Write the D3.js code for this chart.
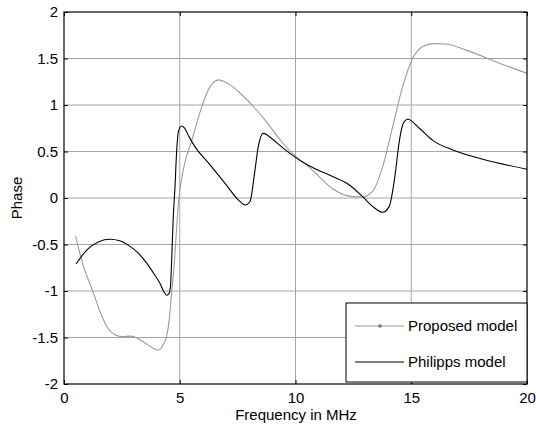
<!DOCTYPE html>
<html><head><meta charset="utf-8">
<script src="https://cdn.jsdelivr.net/npm/d3@7"></script>
<style>body{margin:0;background:#fff;}svg{display:block;}text{font-family:"Liberation Sans",Arial,sans-serif;}</style>
</head><body>
<script>
const xTicks = [0, 5, 10, 15, 20];
const yTicks = [-2, -1.5, -1, -0.5, 0, 0.5, 1, 1.5, 2];
const seriesNames = ["Proposed model", "Philipps model"];

const proposedFreq = [0.5,0.8,1.27,1.6,1.9,2.2,2.5,2.85,3.2,3.43,3.75,4.07,4.3,4.43,4.55,4.65,4.75,4.84,4.94,5.15,5.52,5.95,6.23,6.45,6.67,7.1,7.68,8.25,8.68,9.4,10.05,10.41,10.77,11.6,12.33,12.9,13.33,13.77,14.2,14.63,15.06,15.5,15.93,16.5,17.37,18.8,20];
const proposedPhase = [-0.41,-0.70,-1.02,-1.25,-1.40,-1.47,-1.49,-1.485,-1.51,-1.545,-1.60,-1.635,-1.57,-1.49,-1.30,-1.02,-0.75,-0.42,-0.06,0.30,0.62,0.98,1.16,1.24,1.27,1.23,1.11,0.965,0.84,0.605,0.44,0.37,0.29,0.10,0.02,0.01,0.07,0.34,0.77,1.20,1.50,1.63,1.66,1.656,1.59,1.45,1.34];

const philippsFreq = [0.52,0.98,1.5,1.99,2.4,2.85,3.2,3.57,3.9,4.15,4.3,4.43,4.53,4.6,4.65,4.72,4.79,4.87,4.94,5.08,5.2,5.4,5.66,6.23,6.95,7.53,7.82,8.03,8.25,8.39,8.61,8.97,9.4,9.98,10.41,10.89,11.6,12.33,12.9,13.33,13.77,14.05,14.27,14.49,14.65,14.85,15.35,15.93,16.8,18.09,20];
const philippsPhase = [-0.71,-0.56,-0.47,-0.444,-0.46,-0.52,-0.59,-0.70,-0.82,-0.92,-1.00,-1.045,-1.03,-0.95,-0.67,-0.20,0.10,0.52,0.71,0.774,0.755,0.66,0.55,0.38,0.16,-0.02,-0.075,-0.04,0.30,0.55,0.695,0.64,0.55,0.44,0.37,0.31,0.23,0.14,0.014,-0.09,-0.154,-0.09,0.19,0.62,0.80,0.846,0.75,0.62,0.516,0.416,0.31];

const W = 536, H = 427;
const m = {left: 64, top: 12, right: 527, bottom: 384};
const fs = 15;

const svg = d3.select("body").append("svg").attr("width", W).attr("height", H);
const x = d3.scaleLinear().domain([0, 20]).range([m.left, m.right]);
const y = d3.scaleLinear().domain([-2, 2]).range([m.bottom, m.top]);

// grid
const grid = svg.append("g");
grid.selectAll("line.gx").data(xTicks.slice(1, -1)).join("line")
  .attr("x1", d => x(d)).attr("x2", d => x(d)).attr("y1", m.top).attr("y2", m.bottom)
  .attr("stroke", "#a6a6a6").attr("stroke-width", 1);
grid.selectAll("line.gy").data(yTicks.slice(1, -1)).join("line")
  .attr("y1", d => y(d)).attr("y2", d => y(d)).attr("x1", m.left).attr("x2", m.right)
  .attr("stroke", "#a6a6a6").attr("stroke-width", 1);

// curves
const line = d3.line().x(d => x(d[0])).y(d => y(d[1])).curve(d3.curveMonotoneX);
const propData = proposedFreq.map((f, i) => [f, proposedPhase[i]]);
const philData = philippsFreq.map((f, i) => [f, philippsPhase[i]]);
svg.append("path").attr("d", line(propData)).attr("fill", "none").attr("stroke", "#9a9a9a").attr("stroke-width", 1.1);
svg.append("path").attr("d", line(philData)).attr("fill", "none").attr("stroke", "#000").attr("stroke-width", 1.1);

// axes
const xAxisB = d3.axisBottom(x).tickValues(xTicks).tickSize(-4).tickPadding(8).tickFormat(d3.format("d"));
const xAxisT = d3.axisTop(x).tickValues(xTicks).tickSize(-4).tickFormat("");
const yAxisL = d3.axisLeft(y).tickValues(yTicks).tickSize(-4).tickPadding(6).tickFormat(d => String(d));
const yAxisR = d3.axisRight(y).tickValues(yTicks).tickSize(-4).tickFormat("");

function style(g) {
  g.select(".domain").remove();
  g.selectAll("line").attr("stroke", "#000");
  g.selectAll("text").attr("fill", "#000").style("font-size", fs + "px").style("font-family", '"Liberation Sans", Arial, sans-serif');
}
svg.append("g").attr("transform", `translate(0,${m.bottom})`).call(xAxisB).call(style);
svg.append("g").attr("transform", `translate(0,${m.top})`).call(xAxisT).call(style);
svg.append("g").attr("transform", `translate(${m.left},0)`).call(yAxisL).call(style);
svg.append("g").attr("transform", `translate(${m.right},0)`).call(yAxisR).call(style);

svg.append("rect").attr("x", m.left).attr("y", m.top).attr("width", m.right - m.left).attr("height", m.bottom - m.top)
  .attr("fill", "none").attr("stroke", "#000").attr("stroke-width", 1.2);

// labels
svg.append("text").attr("x", 296).attr("y", 420).attr("text-anchor", "middle")
  .style("font-size", fs + "px").text("Frequency in MHz");
svg.append("text").attr("transform", `translate(22,${(m.top + m.bottom) / 2}) rotate(-90)`).attr("text-anchor", "middle")
  .style("font-size", fs + "px").text("Phase");

// legend
const lg = svg.append("g");
lg.append("rect").attr("x", 346).attr("y", 303).attr("width", 181).attr("height", 79)
  .attr("fill", "#fff").attr("stroke", "#000").attr("stroke-width", 1);
const legY = [326, 362];
const legColors = ["#9a9a9a", "#000"];
seriesNames.forEach((n, i) => {
  lg.append("line").attr("x1", 355).attr("x2", 404).attr("y1", legY[i]).attr("y2", legY[i])
    .attr("stroke", legColors[i]).attr("stroke-width", 1.1);
  if (i === 0) lg.append("circle").attr("cx", 380).attr("cy", legY[i]).attr("r", 1.8).attr("fill", "#777");
  lg.append("text").attr("x", 408).attr("y", legY[i] + 5).style("font-size", fs + "px").text(n);
});
</script>
</body></html>
